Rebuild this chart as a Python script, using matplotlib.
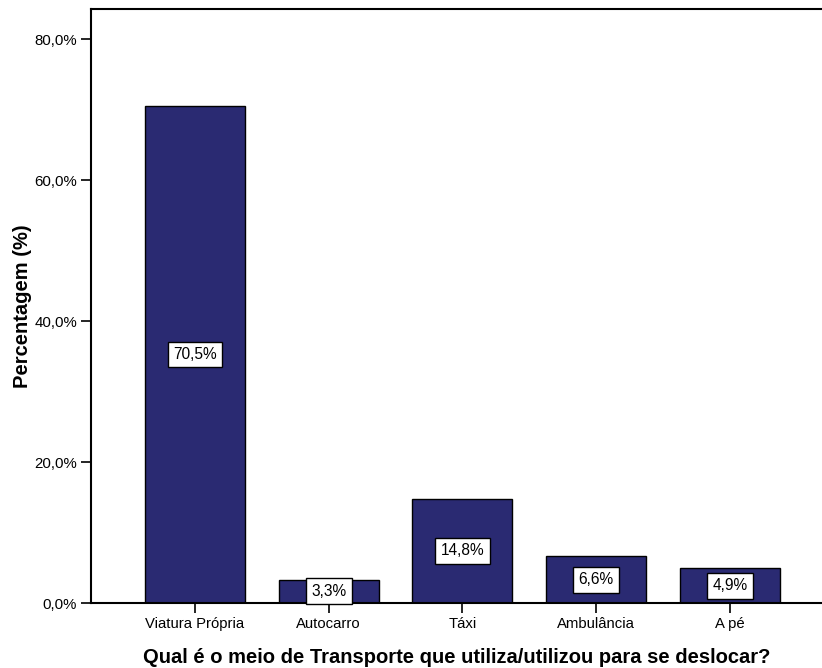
import matplotlib
matplotlib.use("Agg")
import matplotlib.pyplot as plt
import numpy as np

categorias = ["Viatura Própria", "Autocarro", "Táxi", "Ambulância", "A pé"]
percentagens = [70.5, 3.3, 14.8, 6.6, 4.9]
y_ticks = [0, 20, 40, 60, 80]

plt.rcParams['font.family'] = ['Liberation Sans', 'DejaVu Sans']

fig = plt.figure(figsize=(8.22, 6.68), dpi=100)
ax = fig.add_axes([0.1107, 0.0973, 0.8893, 0.8885])

x = np.arange(len(categorias))
ax.bar(x, percentagens, width=0.748, color='#2a2a72', edgecolor='black', linewidth=1.0)

# rótulos de valor no meio da barra
for xi, v in zip(x, percentagens):
    ax.text(xi, v / 2, f"{v:.1f}%".replace('.', ','), ha='center', va='center', fontsize=11.2,
            bbox=dict(boxstyle='square,pad=0.35', facecolor='white', edgecolor='black', linewidth=1.0))

ax.set_xlim(-0.778, 4.69)
ax.set_ylim(0, 84.2)
ax.set_xticks(x)
ax.set_xticklabels(categorias, fontsize=10.7)
ax.set_yticks(y_ticks)
ax.set_yticklabels([f"{t:.1f}%".replace('.', ',') for t in y_ticks], fontsize=10.8)
ax.tick_params(direction='out', length=7, width=1.2, pad=3)

for s in ['left', 'bottom', 'top']:
    ax.spines[s].set_linewidth(1.5)
ax.spines['right'].set_visible(False)

ax.set_ylabel('Percentagem (%)', fontsize=14.5, fontweight='bold', labelpad=2)
ax.set_xlabel('Qual é o meio de Transporte que utiliza/utilizou para se deslocar?',
              fontsize=14.5, fontweight='bold', labelpad=12)

fig.savefig('out.png', dpi=100)
